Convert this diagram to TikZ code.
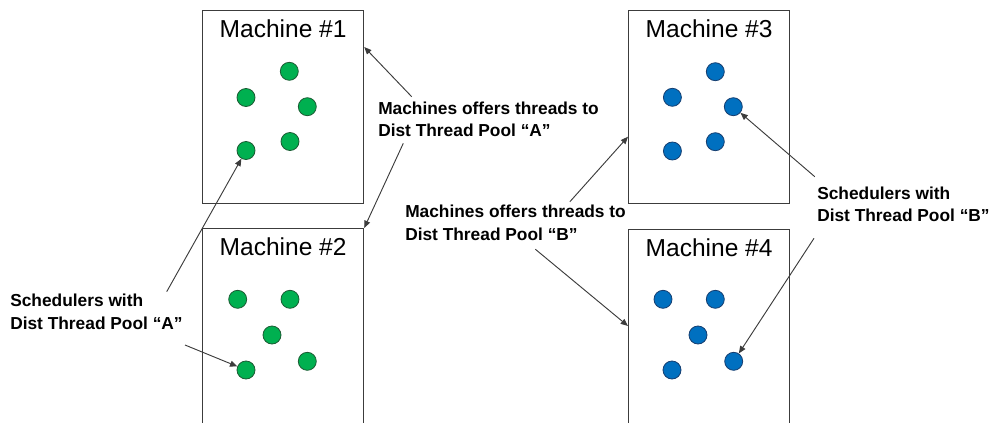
\documentclass[tikz,border=0pt]{standalone}
\usepackage{fontspec}
\setmainfont{Liberation Sans}
\usetikzlibrary{arrows.meta,calc}

\definecolor{dotgreen}{RGB}{0,176,80}
\definecolor{dotgreenedge}{RGB}{28,92,52}
\definecolor{dotblue}{RGB}{0,112,192}
\definecolor{dotblueedge}{RGB}{22,62,112}
\definecolor{boxline}{RGB}{60,60,60}
\definecolor{arrowline}{RGB}{60,60,60}

\begin{document}
\begin{tikzpicture}[x=0.75pt,y=-0.75pt,
  machine/.style={draw=boxline,line width=0.9pt,anchor=north west,inner sep=0pt,
                  minimum width=120.75pt},
  machinetitle/.style={anchor=base,inner sep=0pt,font=\fontsize{18.4pt}{22pt}\selectfont},
  thread/.style={circle,draw,line width=0.6pt,minimum size=13.5pt,inner sep=0pt},
  greenthread/.style={thread,fill=dotgreen,draw=dotgreenedge},
  bluethread/.style={thread,fill=dotblue,draw=dotblueedge},
  notetext/.style={anchor=base west,inner sep=0pt,
                   font=\fontsize{13pt}{16.8pt}\selectfont\bfseries},
  pointer/.style={draw=arrowline,line width=0.7pt,
                  -{Triangle[length=5.5pt,width=4.5pt]}}]

\useasboundingbox (0,0) rectangle (990,422);
\clip (0,0) rectangle (990,422);

% machine boxes (the lower two run off the bottom edge)
\node[machine,minimum height=144.75pt] (m1) at (202,10) {};
\node[machine,minimum height=172pt]    (m2) at (202,228) {};
\node[machine,minimum height=144.75pt] (m3) at (628,10) {};
\node[machine,minimum height=172pt]    (m4) at (628,229) {};

\node[machinetitle] (t1) at ($(m1.north)+(0,27.3)$) {Machine \#1};
\node[machinetitle] (t2) at ($(m2.north)+(0,27.3)$) {Machine \#2};
\node[machinetitle] (t3) at ($(m3.north)+(0,27.3)$) {Machine \#3};
\node[machinetitle] (t4) at ($(m4.north)+(0,27.3)$) {Machine \#4};

% threads of pool A
\node[greenthread] (a1) at (289.3,71.3) {};
\node[greenthread] (a2) at (246,97.5) {};
\node[greenthread] (a3) at (307.3,106.7) {};
\node[greenthread] (a4) at (290,141.5) {};
\node[greenthread] (a5) at (246,150.5) {};

\node[greenthread] (a6) at (237.7,299.3) {};
\node[greenthread] (a7) at (290,299.3) {};
\node[greenthread] (a8) at (272,335) {};
\node[greenthread] (a9) at (307.3,361.3) {};
\node[greenthread] (a10) at (246,370) {};

% threads of pool B
\node[bluethread] (b1) at (715.3,71.7) {};
\node[bluethread] (b2) at (672.4,97.3) {};
\node[bluethread] (b3) at (733.3,106.7) {};
\node[bluethread] (b4) at (715.3,141.7) {};
\node[bluethread] (b5) at (672.4,151) {};

\node[bluethread] (b6) at (663,299.3) {};
\node[bluethread] (b7) at (715.3,299.3) {};
\node[bluethread] (b8) at (698,335) {};
\node[bluethread] (b9) at (733.7,361.3) {};
\node[bluethread] (b10) at (672,370) {};

% explanatory notes
\node[notetext] (offerA) at (378,114.3)
  {\begin{tabular}[t]{@{}l@{}}Machines offers threads to\\Dist Thread Pool “A”\end{tabular}};
\node[notetext] (offerB) at (405,217.7)
  {\begin{tabular}[t]{@{}l@{}}Machines offers threads to\\Dist Thread Pool “B”\end{tabular}};
\node[notetext] (schedA) at (10,306.7)
  {\begin{tabular}[t]{@{}l@{}}Schedulers with\\Dist Thread Pool “A”\end{tabular}};
\node[notetext] (schedB) at (817,199)
  {\begin{tabular}[t]{@{}l@{}}Schedulers with\\Dist Thread Pool “B”\end{tabular}};

% pointer tails next to the notes
\coordinate (oA1) at (411.7,96.7);
\coordinate (oA2) at (403.3,143.3);
\coordinate (oB1) at (569.9,201.7);
\coordinate (oB2) at (535.4,249.3);
\coordinate (sA1) at (166.7,291.7);
\coordinate (sA2) at (185,345);
\coordinate (sB1) at (814.8,176.7);
\coordinate (sB2) at (814,238.3);

% pointers
\draw[pointer] (oA1) -- ($(m1.north east)+(0,37)$);
\draw[pointer] (oA2) -- (m2.north east);
\draw[pointer] (oB1) -- ($(m3.north west)+(0,126.7)$);
\draw[pointer] (oB2) -- ($(m4.north west)+(0,97)$);
\draw[pointer] (sA1) -- (a5);
\draw[pointer] (sA2) -- (a10);
\draw[pointer] (sB1) -- (b3);
\draw[pointer] (sB2) -- (b9);

\end{tikzpicture}
\end{document}
